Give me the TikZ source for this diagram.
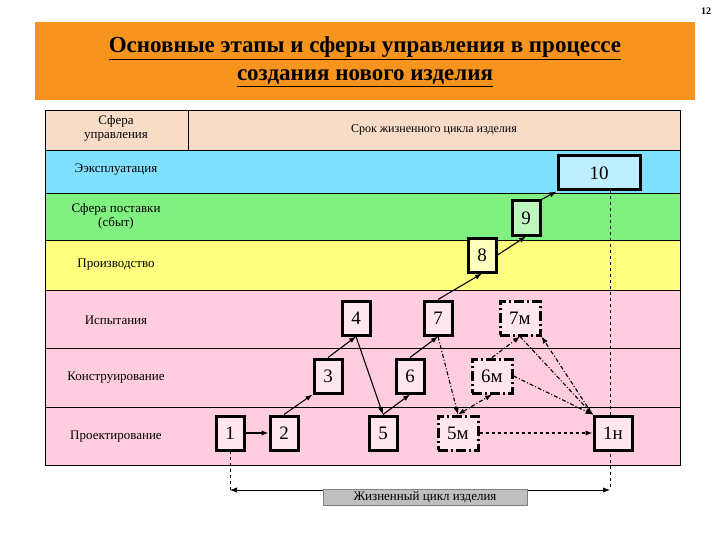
\documentclass[tikz,border=0pt]{standalone}
\usepackage{fontspec}
\setmainfont{Liberation Serif}
\usetikzlibrary{arrows.meta}
\definecolor{org}{HTML}{F7941D}
\definecolor{hdr}{HTML}{F9DCC8}
\definecolor{blu}{HTML}{80E0FF}
\definecolor{grn}{HTML}{80F080}
\definecolor{yel}{HTML}{FFFF80}
\definecolor{pnk}{HTML}{FFCCE0}
\begin{document}
\begin{tikzpicture}[x=1pt,y=-1pt,
 rowtxt/.style={font=\fontsize{13}{14}\selectfont,align=center},
 nbox/.style={draw=black,line width=3pt,minimum width=28pt,minimum height=34pt,inner sep=0pt,font=\fontsize{19}{20}\selectfont,fill=pnk!50},
 mbox/.style={nbox,minimum width=40pt,dash pattern=on 10pt off 3pt on 2pt off 3pt},
 sol/.style={-{Latex[length=7pt]},line width=1.1pt},
 dd/.style={-{Latex[length=7pt]},line width=1.1pt,dash pattern=on 4pt off 2pt on 1pt off 2pt}]
\useasboundingbox (0,0) rectangle (720,540);
\node[font=\bfseries\fontsize{10}{11}\selectfont] (pg) at (706,11) {12};
\fill[org] (35,22) rectangle (695,100);
\node[font=\bfseries\fontsize{23}{28}\selectfont,align=center] (title) at (365,62) {\underline{Основные этапы и сферы управления в процессе}\\\underline{создания нового изделия}};
% rows
\fill[hdr] (45,110) rectangle (680,150);
\fill[blu] (45,150) rectangle (680,193);
\fill[grn] (45,193) rectangle (680,240);
\fill[yel] (45,240) rectangle (680,290);
\fill[pnk] (45,290) rectangle (680,465);
\draw[line width=0.7pt] (45,110) rectangle (680,465);
\foreach \y in {150,193,240,290,348,407} \draw[line width=0.7pt] (45,\y) -- (680,\y);
\draw[line width=0.7pt] (188,110) -- (188,150);
\node[rowtxt] (h1) at (116,128) {Сфера\\управления};
\node[rowtxt,font=\fontsize{12}{13}\selectfont] (h2) at (434,130) {Срок жизненного цикла изделия};
\node[rowtxt] (r1) at (116,170) {Ээксплуатация};
\node[rowtxt] (r2) at (116,216) {Сфера поставки\\(сбыт)};
\node[rowtxt] (r3) at (116,265) {Производство};
\node[rowtxt] (r4) at (116,320) {Испытания};
\node[rowtxt] (r5) at (116,378) {Конструирование};
\node[rowtxt] (r6) at (116,437) {Проектирование};
% life cycle lines (behind boxes)
\coordinate (a) at (230,490);
\coordinate (b) at (610,490);
\coordinate (t) at (610,190);
\draw[dashed,line width=0.7pt] (230,433) -- (a);
\draw[dashed,line width=0.7pt] (t) -- (b);
% boxes
\node[nbox] (n1) at (230,433) {1};
\node[nbox] (n2) at (284,433) {2};
\node[nbox] (n3) at (328,376) {3};
\node[nbox] (n4) at (356,318) {4};
\node[nbox] (n5) at (383,433) {5};
\node[nbox] (n6) at (410,376) {6};
\node[nbox] (n7) at (438,318) {7};
\node[nbox,fill=yel!50] (n8) at (482,255) {8};
\node[nbox,fill=grn!50] (n9) at (526,218) {9};
\node[nbox,fill=blu!50,minimum width=82pt,minimum height=34pt] (n10) at (599,173) {10};
\node[mbox] (m7) at (520,318) {7м};
\node[mbox] (m6) at (492,376) {6м};
\node[mbox] (m5) at (458,433) {5м};
\node[nbox,minimum width=38pt] (h) at (613,433) {1н};
\draw[sol] (n1) -- (n2);
\draw[sol] (n2.north) -- (n3.south west);
\draw[sol] (n3.north) -- (n4.south);
\draw[sol] (n4.south) -- (n5.north);
\draw[sol] (n5.north) -- (n6.south);
\draw[sol] (n6.north) -- (n7.south);
\draw[sol] (n7.north) -- (n8.south);
\draw[sol] (n8.east) -- (n9.south);
\draw[sol] (n9.north east) -- (n10.south west);
\draw[dd] (n7.south) -- (m5.north);
\draw[dd,{Latex[length=7pt]}-{Latex[length=7pt]}] (m5.north) -- (m6.south);
\draw[dd] (m6.north) -- (m7.south);
\draw[dd] (m7.south) -- (h.north west);
\draw[dd] (h.north west) -- (m7.south east);
\draw[dd] (m6.east) -- (h.north west);
\draw[-{Latex[length=7pt]},dashed,line width=1.1pt] (m5.east) -- (h.west);
\draw[{Latex[length=7pt]}-{Latex[length=7pt]},line width=0.7pt] (a) -- (b);
\node[fill=black!25,draw=black!50,font=\fontsize{13}{14}\selectfont,inner sep=2pt,minimum width=204pt] (lc) at (425,497) {Жизненный цикл изделия};
\end{tikzpicture}
\end{document}
